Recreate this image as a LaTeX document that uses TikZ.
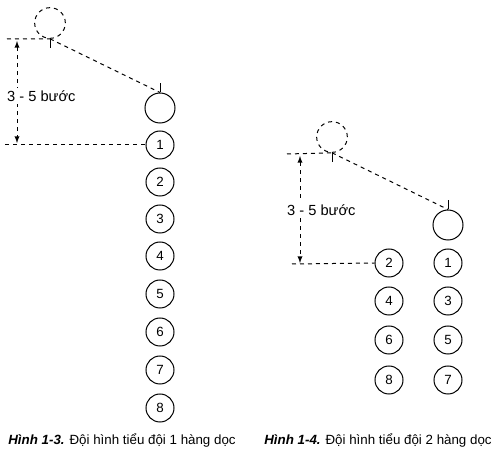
\documentclass[tikz,border=0pt]{standalone}
\usepackage{fontspec}
\setmainfont{Liberation Sans}

\tikzset{every picture/.style={line width=0.75pt}}
\tikzset{
  soldier/.style={circle, draw, minimum size=21pt, inner sep=0pt, font=\fontsize{10}{12}\selectfont},
  leader/.style={circle, draw, minimum size=22.5pt, inner sep=0pt},
  ghost/.style={circle, draw, dashed, minimum size=23pt, inner sep=0pt},
  guide/.style={dashed},
  steplabel/.style={anchor=west, fill=white, inner sep=2pt, font=\fontsize{11}{13}\selectfont},
  caption/.style={font=\fontsize{10}{12}\selectfont},
}

\begin{document}
\begin{tikzpicture}[x=0.75pt,y=0.75pt,yscale=-1,xscale=1]
		\useasboundingbox (0,0) rectangle (494,460);

		% Hinh 1-3: tieu doi 1 hang doc
		\node [ghost] (gL) at (50,23) {};
		\node [leader] (ldL) at (160,108) {};
		\foreach \n/\y in {1/145,2/182,3/219,4/256,5/294,6/332,7/370,8/408}
			\node [soldier] (a\n) at (160,\y) {\n};

		\draw (gL.south) -- ++(0,9);
		\draw (ldL.north) -- ++(0,-9);
		\draw [guide] (gL.south) -- (ldL.north);

		\coordinate (hL1) at (7,39);
		\coordinate (hL2) at (5,145);
		\draw [guide] (hL1) -- (gL.south);
		\draw [guide] (hL2) -- (a1.west);

		\coordinate (vL1) at (17,41);
		\coordinate (vL2) at (17,143);
		\draw [guide, latex-latex] (vL1) -- (vL2);
		\node [steplabel] (sL) at (4,96) {3 - 5 bước};

		% Hinh 1-4: tieu doi 2 hang doc
		\node [ghost] (gR) at (332,137) {};
		\node [leader] (ldR) at (448,225) {};
		\foreach \n/\y in {1/263,3/301,5/340,7/380}
			\node [soldier] (b\n) at (448,\y) {\n};
		\foreach \n/\y in {2/263,4/301,6/340,8/380}
			\node [soldier] (b\n) at (389,\y) {\n};

		\draw (gR.south) -- ++(0,9);
		\draw (ldR.north) -- ++(0,-9);
		\draw [guide] (gR.south) -- (ldR.north);

		\coordinate (hR1) at (287,154);
		\coordinate (hR2) at (292,264);
		\draw [guide] (hR1) -- (gR.south);
		\draw [guide] (hR2) -- (b2.west);

		\coordinate (vR1) at (300,156);
		\coordinate (vR2) at (300,263);
		\draw [guide, latex-latex] (vR1) -- (vR2);
		\node [steplabel] (sR) at (284,210) {3 - 5 bước};

		% chu thich
		\node [caption] (capL) at (122,441) {\textbf{\textit{Hình 1-3.}} Đội hình tiểu đội 1 hàng dọc};
		\node [caption] (capR) at (378,441) {\textbf{\textit{Hình 1-4.}} Đội hình tiểu đội 2 hàng dọc};

\end{tikzpicture}
\end{document}
